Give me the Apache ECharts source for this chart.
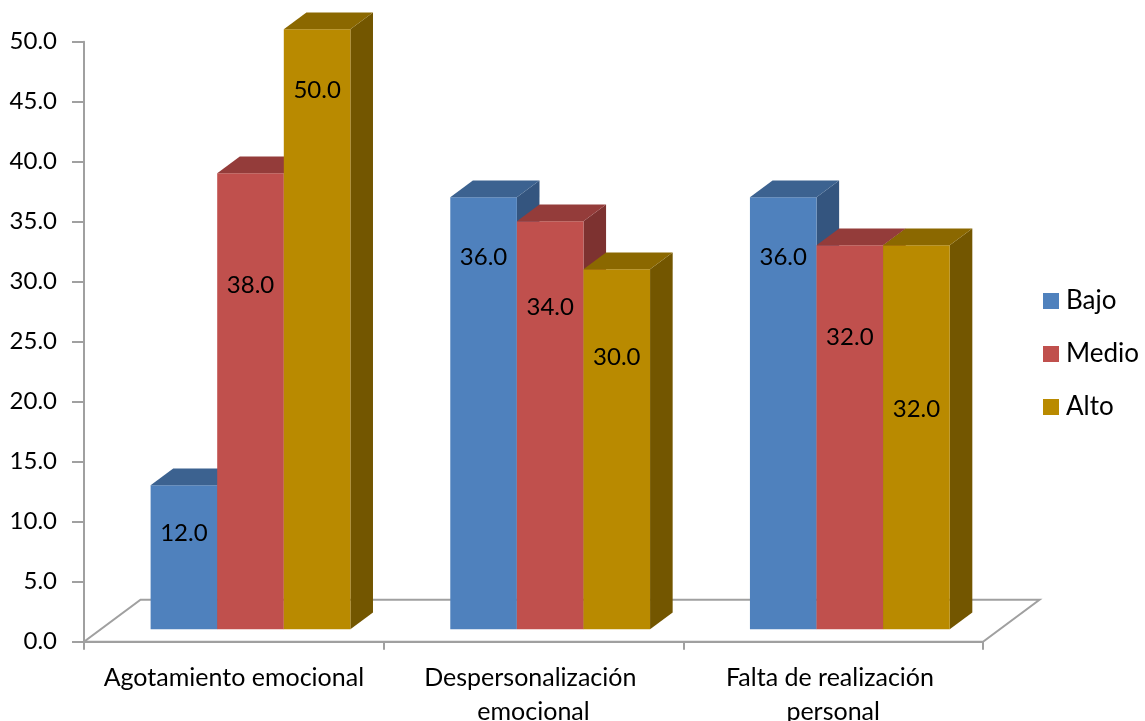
<!DOCTYPE html>
<html>
<head>
<meta charset="utf-8">
<script src="https://cdn.jsdelivr.net/npm/echarts@6/dist/echarts.min.js"></script>
<style>html,body{margin:0;padding:0;background:#fff}#c{width:1145px;height:721px}</style>
</head>
<body>
<div id="c"></div>
<script>
// ---- data ----
const categories = ["Agotamiento emocional", "Despersonalización emocional", "Falta de realización personal"];
const seriesNames = ["Bajo", "Medio", "Alto"];
const bajo = [12.0, 36.0, 36.0];
const medio = [38.0, 34.0, 32.0];
const alto = [50.0, 30.0, 32.0];
const yTicks = { min: 0, max: 50, interval: 5 };

// ---- style ----
const FONT = 'Lato, "Open Sans", sans-serif';
const FS = 24;
const FLOOR_DX = 56.5, FLOOR_DY = -42;
const FRONT_F = 0.295, DEPTH_F = 0.4;
const COLORS = [
  { front: '#4F81BD', top: '#3C6290', side: '#34557F' },
  { front: '#C0504D', top: '#943C3A', side: '#7D3230' },
  { front: '#B98A00', top: '#8B6800', side: '#735600' }
];
// label drop below the bar's top edge (px), per series per category
const LABEL_DROP = [[48, 60, 60], [112, 86, 92], [61, 88, 164]];
const AXIS_GRAY = '#A0A0A0';

const values = [bajo, medio, alto];

function barRenderer(si) {
  return function (params, api) {
    const i = api.value(0), v = api.value(1);
    const c0 = api.coord([i, 0]);
    const c1 = api.coord([i, v]);
    const bw = api.size([1, 0])[0];
    const w = bw * 2 / 9;
    const sx = FLOOR_DX * FRONT_F, sy = FLOOR_DY * FRONT_F;
    const dx = FLOOR_DX * DEPTH_F, dy = FLOOR_DY * DEPTH_F;
    const x0 = c0[0] - bw / 2 + bw * 1.5 / 9 + w * si + sx;
    const yb = c0[1] + sy, yt = c1[1] + sy;
    const col = COLORS[si];
    return {
      type: 'group',
      children: [
        { type: 'polygon', shape: { points: [[x0 + w, yt], [x0 + w + dx, yt + dy], [x0 + w + dx, yb + dy], [x0 + w, yb]] }, style: { fill: col.side } },
        { type: 'rect', shape: { x: x0, y: yt, width: w, height: yb - yt }, style: { fill: col.front } },
        { type: 'polygon', shape: { points: [[x0, yt], [x0 + w, yt], [x0 + w + dx, yt + dy], [x0 + dx, yt + dy]] }, style: { fill: col.top } },
        { type: 'text', style: { text: v.toFixed(1), x: x0 + w / 2, y: yt + LABEL_DROP[si][i], align: 'center', verticalAlign: 'middle', fontFamily: FONT, fontSize: FS, fill: '#000' } }
      ]
    };
  };
}

function floorRenderer(params, api) {
  const cs = params.coordSys;
  const yb = cs.y + cs.height;
  return {
    type: 'polygon',
    shape: { points: [[cs.x, yb], [cs.x + cs.width, yb], [cs.x + cs.width + FLOOR_DX, yb + FLOOR_DY], [cs.x + FLOOR_DX, yb + FLOOR_DY]] },
    style: { fill: '#fff', stroke: AXIS_GRAY, lineWidth: 2 }
  };
}

const series = [{
  type: 'custom', name: '_floor', renderItem: floorRenderer, data: [[0, 0]], z: 1, silent: true,
  encode: { x: 0, y: 1 }
}];
values.forEach((arr, si) => {
  series.push({
    type: 'custom',
    name: seriesNames[si],
    renderItem: barRenderer(si),
    itemStyle: { color: COLORS[si].front },
    data: arr.map((v, i) => [i, v]),
    encode: { x: 0, y: 1 },
    z: 2 + si
  });
});

const chart = echarts.init(document.getElementById('c'), null, { renderer: 'canvas' });
chart.setOption({
  animation: false,
  backgroundColor: '#fff',
  grid: { left: 84, right: 162, top: 41.7, bottom: 79.3, containLabel: false, outerBoundsMode: 'none' },
  xAxis: {
    type: 'category',
    data: categories,
    boundaryGap: true,
    axisLine: { show: true, lineStyle: { color: AXIS_GRAY, width: 2 } },
    axisTick: { show: true, length: 8, alignWithLabel: false, interval: 0, lineStyle: { color: AXIS_GRAY, width: 2 } },
    axisLabel: { interval: 0, margin: 19, width: 280, overflow: 'break', fontFamily: FONT, fontSize: 25, color: '#000', lineHeight: 34 },
    splitLine: { show: false },
    z: 10
  },
  yAxis: {
    type: 'value',
    min: yTicks.min, max: yTicks.max, interval: yTicks.interval,
    axisLine: { show: true, lineStyle: { color: AXIS_GRAY, width: 2 } },
    axisTick: { show: true, length: 12, lineStyle: { color: AXIS_GRAY, width: 2 } },
    axisLabel: { margin: 27, formatter: v => v.toFixed(1), fontFamily: FONT, fontSize: FS, color: '#000' },
    splitLine: { show: false }
  },
  legend: {
    data: seriesNames,
    orient: 'vertical',
    left: 1043, top: 288,
    padding: 0,
    itemWidth: 16, itemHeight: 16, itemGap: 27,
    icon: 'rect',
    textStyle: { fontFamily: FONT, fontSize: 26, color: '#000', lineHeight: 24, padding: [0, 0, 0, 2] }
  },
  series: series
});
</script>
</body>
</html>
